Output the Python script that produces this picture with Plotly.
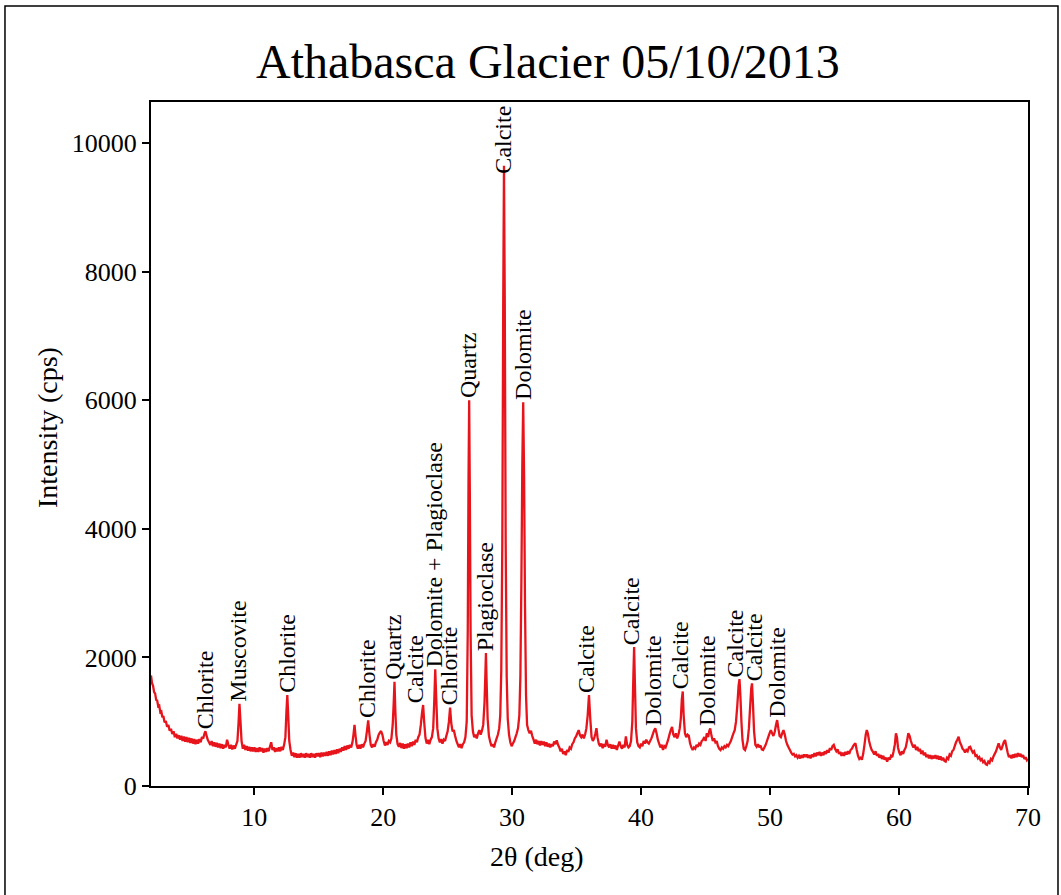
import plotly.graph_objects as go

# XRD scan of Athabasca Glacier sediment, (2-theta in degrees, intensity in counts/s)
scan_02_10 = [
    (2.00, 1720), (2.08, 1600), (2.16, 1560), (2.24, 1460), (2.32, 1440), (2.40, 1340), (2.48, 1330),
    (2.56, 1240), (2.64, 1250), (2.72, 1150), (2.80, 1160), (2.88, 1070), (2.96, 1090), (3.05, 990),
    (3.15, 1010), (3.25, 920), (3.35, 950), (3.45, 860), (3.55, 890), (3.65, 810), (3.75, 850),
    (3.85, 760), (3.95, 810), (4.05, 740), (4.15, 790), (4.25, 720), (4.35, 780), (4.45, 700),
    (4.55, 770), (4.65, 690), (4.75, 760), (4.85, 680), (4.95, 750), (5.05, 670), (5.15, 740),
    (5.25, 660), (5.35, 730), (5.45, 650), (5.55, 720), (5.65, 660), (5.75, 730), (5.85, 680),
    (5.95, 760), (6.05, 740), (6.15, 820), (6.22, 850), (6.30, 790), (6.40, 720), (6.50, 680),
    (6.60, 640), (6.70, 700), (6.80, 620), (6.90, 680), (7.00, 610), (7.10, 670), (7.20, 600),
    (7.30, 660), (7.40, 590), (7.50, 650), (7.60, 580), (7.70, 640), (7.80, 600), (7.90, 720),
    (8.00, 640), (8.10, 580), (8.20, 640), (8.30, 570), (8.40, 630), (8.50, 580), (8.60, 640),
    (8.70, 700), (8.78, 950), (8.86, 1280), (8.94, 1000), (9.02, 700), (9.12, 580), (9.22, 640),
    (9.32, 560), (9.42, 620), (9.52, 550), (9.62, 610), (9.72, 540), (9.82, 600), (9.92, 540),
]
scan_10_20 = [
    (10.02, 600), (10.12, 530), (10.22, 590), (10.32, 530), (10.42, 600), (10.52, 540), (10.62, 590),
    (10.72, 520), (10.82, 580), (10.92, 530), (11.02, 590), (11.12, 540), (11.22, 610), (11.32, 680),
    (11.42, 560), (11.52, 600), (11.62, 530), (11.72, 590), (11.82, 540), (11.92, 600), (12.02, 540),
    (12.12, 610), (12.22, 560), (12.32, 640), (12.42, 760), (12.50, 1150), (12.57, 1415), (12.64, 1100),
    (12.72, 700), (12.82, 560), (12.92, 470), (13.02, 520), (13.12, 450), (13.22, 510), (13.32, 440),
    (13.42, 500), (13.52, 440), (13.62, 510), (13.72, 450), (13.82, 500), (13.92, 440), (14.02, 510),
    (14.12, 450), (14.22, 500), (14.32, 440), (14.42, 510), (14.52, 450), (14.62, 500), (14.72, 440),
    (14.82, 510), (14.92, 460), (15.02, 510), (15.12, 450), (15.22, 520), (15.32, 460), (15.42, 520),
    (15.52, 470), (15.62, 530), (15.72, 470), (15.82, 540), (15.92, 480), (16.02, 550), (16.12, 490),
    (16.22, 560), (16.32, 500), (16.42, 570), (16.52, 510), (16.62, 580), (16.72, 530), (16.82, 600),
    (16.92, 550), (17.02, 620), (17.12, 560), (17.22, 630), (17.32, 580), (17.42, 640), (17.52, 600),
    (17.62, 680), (17.70, 800), (17.78, 950), (17.86, 780), (17.94, 640), (18.04, 580), (18.14, 640),
    (18.24, 580), (18.34, 650), (18.44, 600), (18.54, 660), (18.64, 700), (18.74, 850), (18.84, 1020),
    (18.94, 800), (19.04, 640), (19.14, 600), (19.24, 650), (19.34, 610), (19.44, 680), (19.54, 720),
    (19.64, 790), (19.74, 830), (19.84, 855), (19.94, 800),
]
scan_20_30 = [
    (20.04, 700), (20.14, 630), (20.24, 680), (20.34, 640), (20.44, 700), (20.54, 680), (20.64, 740),
    (20.74, 950), (20.82, 1300), (20.88, 1620), (20.94, 1200), (21.02, 800), (21.12, 650), (21.22, 610),
    (21.32, 670), (21.42, 590), (21.52, 660), (21.62, 580), (21.72, 650), (21.82, 590), (21.92, 660),
    (22.02, 600), (22.12, 680), (22.22, 620), (22.32, 690), (22.42, 640), (22.52, 720), (22.62, 680),
    (22.72, 760), (22.82, 800), (22.92, 950), (23.02, 1150), (23.10, 1260), (23.18, 1000), (23.28, 750),
    (23.38, 660), (23.48, 720), (23.58, 650), (23.68, 720), (23.78, 760), (23.88, 900), (23.96, 1300),
    (24.04, 1815), (24.12, 1350), (24.20, 900), (24.30, 740), (24.40, 680), (24.50, 730), (24.60, 660),
    (24.70, 720), (24.80, 700), (24.90, 780), (25.00, 850), (25.10, 1000), (25.19, 1220), (25.28, 980),
    (25.38, 850), (25.48, 870), (25.58, 780), (25.68, 700), (25.78, 650), (25.88, 600), (25.98, 650),
    (26.08, 590), (26.18, 650), (26.28, 680), (26.38, 760), (26.48, 1000), (26.56, 2400), (26.62, 4800),
    (26.67, 6000), (26.72, 4600), (26.78, 2400), (26.86, 1100), (26.96, 850), (27.06, 760), (27.16, 800),
    (27.26, 740), (27.36, 820), (27.46, 870), (27.56, 800), (27.66, 860), (27.76, 950), (27.86, 1300),
    (27.92, 1700), (27.97, 2070), (28.02, 1650), (28.10, 1050), (28.20, 780), (28.30, 690), (28.40, 620),
    (28.50, 650), (28.60, 600), (28.70, 680), (28.80, 740), (28.90, 800), (29.00, 900), (29.08, 1100),
    (29.16, 1800), (29.24, 3800), (29.31, 7500), (29.37, 9650), (29.43, 7500), (29.50, 3800), (29.58, 1700),
    (29.66, 1050), (29.76, 800), (29.86, 680), (29.96, 620),
]
scan_30_40 = [
    (30.06, 660), (30.16, 700), (30.26, 760), (30.36, 820), (30.46, 900), (30.56, 1100), (30.64, 1700),
    (30.72, 3200), (30.79, 5000), (30.86, 5970), (30.93, 4800), (31.00, 2800), (31.08, 1400), (31.16, 950),
    (31.26, 870), (31.36, 820), (31.46, 860), (31.56, 780), (31.66, 720), (31.76, 660), (31.86, 720),
    (31.96, 650), (32.06, 700), (32.16, 630), (32.26, 700), (32.36, 640), (32.46, 690), (32.56, 620),
    (32.66, 680), (32.76, 610), (32.86, 660), (32.96, 600), (33.06, 650), (33.16, 620), (33.26, 690),
    (33.36, 650), (33.46, 710), (33.56, 640), (33.66, 600), (33.76, 540), (33.86, 580), (33.96, 500),
    (34.06, 540), (34.16, 480), (34.26, 560), (34.36, 530), (34.46, 600), (34.56, 580), (34.66, 650),
    (34.76, 680), (34.86, 740), (34.96, 770), (35.06, 820), (35.16, 870), (35.26, 790), (35.36, 760),
    (35.46, 800), (35.56, 740), (35.66, 800), (35.76, 900), (35.86, 1100), (35.96, 1415), (36.06, 1050),
    (36.16, 760), (36.26, 700), (36.36, 740), (36.46, 820), (36.54, 900), (36.62, 760), (36.72, 660),
    (36.82, 620), (36.92, 660), (37.02, 590), (37.12, 650), (37.22, 610), (37.32, 720), (37.42, 640),
    (37.52, 600), (37.62, 650), (37.72, 580), (37.82, 640), (37.92, 580), (38.02, 630), (38.12, 560),
    (38.22, 630), (38.32, 690), (38.42, 620), (38.52, 580), (38.62, 640), (38.72, 600), (38.82, 770),
    (38.92, 640), (39.02, 600), (39.12, 620), (39.22, 700), (39.32, 1000), (39.40, 1700), (39.46, 2160),
    (39.52, 1600), (39.60, 900), (39.70, 680), (39.80, 620), (39.90, 600),
]
scan_40_50 = [
    (40.00, 660), (40.10, 620), (40.20, 700), (40.30, 660), (40.40, 720), (40.50, 680), (40.60, 660),
    (40.70, 700), (40.80, 740), (40.90, 800), (41.00, 860), (41.10, 897), (41.20, 820), (41.30, 720),
    (41.40, 660), (41.50, 600), (41.60, 640), (41.70, 560), (41.80, 620), (41.90, 600), (42.00, 660),
    (42.10, 720), (42.20, 800), (42.30, 870), (42.40, 920), (42.50, 800), (42.60, 760), (42.70, 820),
    (42.80, 740), (42.90, 800), (43.00, 900), (43.08, 1050), (43.16, 1350), (43.23, 1470), (43.30, 1100),
    (43.40, 820), (43.50, 760), (43.60, 800), (43.70, 780), (43.80, 660), (43.90, 600), (44.00, 560),
    (44.10, 600), (44.20, 580), (44.30, 640), (44.40, 610), (44.50, 660), (44.60, 640), (44.70, 700),
    (44.80, 720), (44.90, 760), (45.00, 700), (45.10, 820), (45.20, 760), (45.28, 850), (45.36, 897),
    (45.46, 780), (45.56, 700), (45.66, 740), (45.76, 680), (45.86, 700), (45.96, 620), (46.06, 580),
    (46.16, 560), (46.26, 600), (46.36, 580), (46.46, 620), (46.56, 600), (46.66, 640), (46.76, 620),
    (46.86, 660), (46.96, 700), (47.06, 760), (47.16, 820), (47.26, 870), (47.36, 1000), (47.46, 1250),
    (47.56, 1560), (47.63, 1664), (47.70, 1400), (47.78, 1000), (47.86, 720), (47.96, 580), (48.06, 560),
    (48.16, 620), (48.26, 700), (48.36, 900), (48.46, 1250), (48.54, 1520), (48.60, 1597), (48.67, 1300),
    (48.76, 850), (48.86, 640), (48.96, 610), (49.06, 650), (49.16, 600), (49.26, 630), (49.36, 570),
    (49.46, 560), (49.56, 600), (49.66, 640), (49.76, 700), (49.86, 760), (49.96, 820),
]
scan_50_60 = [
    (50.06, 870), (50.16, 820), (50.26, 780), (50.36, 840), (50.46, 950), (50.55, 1026), (50.64, 900),
    (50.74, 780), (50.84, 760), (50.94, 820), (51.04, 870), (51.14, 800), (51.24, 700), (51.34, 640),
    (51.44, 600), (51.54, 560), (51.64, 520), (51.74, 490), (51.84, 500), (51.94, 460), (52.04, 480),
    (52.14, 440), (52.24, 470), (52.34, 430), (52.44, 480), (52.54, 440), (52.64, 490), (52.74, 450),
    (52.84, 490), (52.94, 440), (53.04, 480), (53.14, 430), (53.24, 490), (53.34, 450), (53.44, 510),
    (53.54, 460), (53.64, 520), (53.74, 480), (53.84, 530), (53.94, 470), (54.04, 520), (54.14, 480),
    (54.24, 540), (54.34, 500), (54.44, 560), (54.54, 520), (54.64, 590), (54.74, 560), (54.84, 620),
    (54.94, 640), (55.04, 580), (55.14, 540), (55.24, 570), (55.34, 500), (55.44, 530), (55.54, 470),
    (55.64, 520), (55.74, 470), (55.84, 530), (55.94, 490), (56.04, 540), (56.14, 500), (56.24, 560),
    (56.34, 580), (56.44, 620), (56.54, 650), (56.62, 664), (56.72, 560), (56.82, 470), (56.92, 420),
    (57.02, 440), (57.12, 410), (57.22, 500), (57.32, 640), (57.42, 800), (57.50, 870), (57.58, 820),
    (57.68, 700), (57.78, 620), (57.88, 560), (57.98, 530), (58.08, 490), (58.18, 540), (58.28, 470),
    (58.38, 500), (58.48, 440), (58.58, 480), (58.68, 420), (58.78, 470), (58.88, 410), (58.98, 440),
    (59.08, 380), (59.18, 440), (59.28, 410), (59.38, 470), (59.48, 450), (59.58, 540), (59.68, 650),
    (59.76, 820), (59.84, 760), (59.92, 600),
]
scan_60_70 = [
    (60.02, 520), (60.12, 480), (60.22, 540), (60.32, 500), (60.42, 560), (60.52, 600), (60.62, 700),
    (60.72, 820), (60.82, 780), (60.92, 700), (61.02, 640), (61.12, 600), (61.22, 640), (61.32, 560),
    (61.42, 610), (61.52, 540), (61.62, 580), (61.72, 500), (61.82, 550), (61.92, 480), (62.02, 520),
    (62.12, 450), (62.22, 490), (62.32, 430), (62.42, 480), (62.52, 420), (62.62, 470), (62.72, 430),
    (62.82, 480), (62.92, 420), (63.02, 470), (63.12, 410), (63.22, 460), (63.32, 400), (63.42, 440),
    (63.52, 390), (63.62, 380), (63.72, 440), (63.82, 420), (63.92, 490), (64.02, 470), (64.12, 540),
    (64.22, 560), (64.32, 620), (64.42, 680), (64.52, 720), (64.62, 767), (64.72, 680), (64.82, 640),
    (64.92, 580), (65.02, 560), (65.12, 520), (65.22, 560), (65.32, 540), (65.42, 600), (65.52, 610),
    (65.62, 560), (65.72, 520), (65.82, 540), (65.92, 470), (66.02, 480), (66.12, 430), (66.22, 450),
    (66.32, 400), (66.42, 420), (66.52, 370), (66.62, 390), (66.72, 340), (66.82, 330), (66.92, 380),
    (67.02, 360), (67.12, 420), (67.22, 400), (67.32, 460), (67.42, 500), (67.52, 540), (67.62, 600),
    (67.72, 664), (67.82, 600), (67.92, 560), (68.02, 620), (68.12, 680), (68.22, 715), (68.32, 620),
    (68.42, 520), (68.52, 450), (68.62, 480), (68.72, 430), (68.82, 490), (68.92, 440), (69.02, 500),
    (69.12, 450), (69.22, 510), (69.32, 460), (69.42, 500), (69.52, 450), (69.62, 480), (69.72, 420),
    (69.82, 450), (69.92, 400), (70.00, 420),
]

# Identified reflections: mineral name and 2-theta of the peak
peak_names = [
    "Chlorite", "Muscovite", "Chlorite", "Chlorite", "Quartz", "Calcite",
    "Dolomite + Plagioclase", "Chlorite", "Quartz", "Plagioclase", "Calcite", "Dolomite",
    "Calcite", "Calcite", "Dolomite", "Calcite", "Dolomite", "Calcite", "Calcite", "Dolomite",
]
peak_two_theta = [
    6.22, 8.86, 12.57, 18.84, 20.88, 23.10,
    24.04, 25.19, 26.67, 27.97, 29.37, 30.86,
    35.96, 39.46, 41.10, 43.23, 45.36, 47.63, 48.60, 50.55,
]

x_ticks = [10, 20, 30, 40, 50, 60, 70]
y_ticks = [0, 2000, 4000, 6000, 8000, 10000]

segments = [scan_02_10, scan_10_20, scan_20_30, scan_30_40, scan_40_50, scan_50_60, scan_60_70]
two_theta = [p[0] for seg in segments for p in seg]
intensity = [p[1] for seg in segments for p in seg]

SERIF = "Liberation Serif, Times New Roman, serif"
RED = "#e8141c"

fig = go.Figure()
fig.add_trace(go.Scatter(
    x=two_theta, y=intensity, mode="lines",
    line=dict(color=RED, width=2.3, simplify=False), showlegend=False, hoverinfo="x+y",
))

# Pixel nudges for crowded labels
label_xshift = {5: -8, 12: -3, 13: -3, 14: -2, 15: -3, 16: -3, 17: -4, 18: 2}
label_yshift = {10: -10}

for i, (name, pos) in enumerate(zip(peak_names, peak_two_theta)):
    idx = min(range(len(two_theta)), key=lambda k: abs(two_theta[k] - pos))
    fig.add_annotation(
        x=two_theta[idx], y=intensity[idx], text=name, textangle=-90,
        xanchor="center", yanchor="bottom", showarrow=False,
        xshift=label_xshift.get(i, -1), yshift=label_yshift.get(i, 0),
        font=dict(family=SERIF, size=24, color="black"),
    )

# Title and axis titles
fig.add_annotation(x=0.4527, y=1.0585, xref="paper", yref="paper", text="Athabasca Glacier 05/10/2013",
                   showarrow=False, xanchor="center", yanchor="middle",
                   font=dict(family=SERIF, size=48, color="black"))
fig.add_annotation(x=0.440, y=-0.1038, xref="paper", yref="paper", text="2θ (deg)",
                   showarrow=False, xanchor="center", yanchor="middle",
                   font=dict(family=SERIF, size=28, color="black"))
fig.add_annotation(x=-0.1174, y=0.5234, xref="paper", yref="paper", text="Intensity (cps)",
                   showarrow=False, xanchor="center", yanchor="middle", textangle=-90,
                   font=dict(family=SERIF, size=28, color="black"))

# Outer frame around the whole figure
fig.add_shape(type="rect", xref="paper", yref="paper",
              x0=-0.1665, x1=1.0342, y0=-0.2, y1=1.1404,
              line=dict(color="black", width=1.5), fillcolor="rgba(0,0,0,0)", layer="above")

axis_common = dict(
    showgrid=False, zeroline=False, showline=True, linecolor="black", linewidth=2,
    mirror=True, ticks="outside", ticklen=7, tickwidth=1.5, tickcolor="black",
    tickfont=dict(family=SERIF, size=26, color="black"),
)
fig.update_xaxes(range=[2, 70], tickvals=x_ticks, ticktext=[str(v) for v in x_ticks], **axis_common)
fig.update_yaxes(range=[0, 10640], tickvals=y_ticks, ticktext=[str(v) for v in y_ticks], **axis_common)

fig.update_layout(
    width=1061, height=895,
    margin=dict(l=151, r=33, t=102, b=109),
    paper_bgcolor="white", plot_bgcolor="white",
    font=dict(family=SERIF, color="black"),
)

fig.write_html("out.html")
